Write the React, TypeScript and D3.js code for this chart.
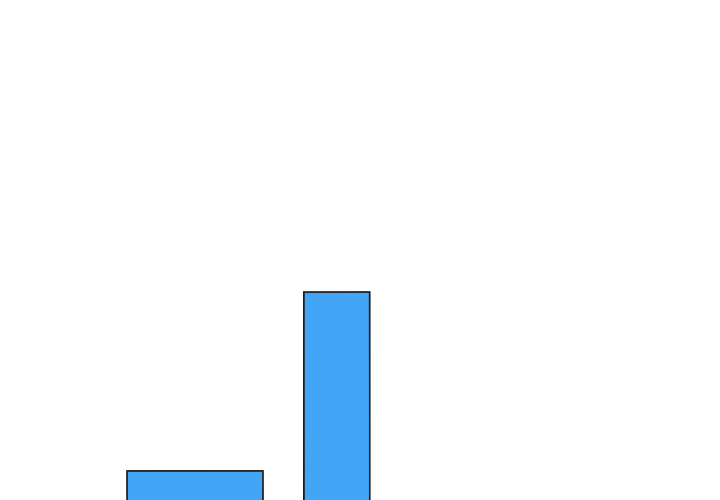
import { useEffect, useRef } from "react";
import * as d3 from "d3";

// Bars: label, left edge, right edge (x units), value
const labels = ["A", "B"];
const binStart = [0, 13];
const binEnd = [10, 17.85];
const values = [14, 100];

const W = 720;
const H = 500;

const App = () => {
    const svgRef = useRef<SVGSVGElement>(null);

    useEffect(() => {
        if (!svgRef.current) return;
        const svg = d3.select(svgRef.current);
        svg.selectAll("*").remove();

        const x = d3.scaleLinear().domain([0, 10]).range([127, 263]);
        // baseline sits at the bottom edge of the picture (chart is cropped)
        const y = d3.scaleLinear().domain([0, 100]).range([H, 292]);

        const data = labels.map((l, i) => ({
            label: l,
            x0: binStart[i],
            x1: binEnd[i],
            v: values[i],
        }));

        svg.append("rect")
            .attr("width", W)
            .attr("height", H)
            .attr("fill", "#fff");

        const g = svg.append("g");

        // bars, drawn with a slightly doubled outline for the hand-drawn look
        g.selectAll(".bar")
            .data(data)
            .enter()
            .append("rect")
            .attr("class", "bar")
            .attr("x", (d) => x(d.x0))
            .attr("y", (d) => y(d.v))
            .attr("width", (d) => x(d.x1) - x(d.x0))
            .attr("height", (d) => y(0) - y(d.v) + 4)
            .attr("fill", "#42a5f5")
            .attr("stroke", "#1b1b1b")
            .attr("stroke-width", 1.6);

        g.selectAll(".edge")
            .data(data)
            .enter()
            .append("path")
            .attr("class", "edge")
            .attr("fill", "none")
            .attr("stroke", "#222")
            .attr("stroke-width", 0.8)
            .attr("opacity", 0.7)
            .attr("d", (d) => {
                const l = x(d.x0) + 0.6;
                const r = x(d.x1) - 0.5;
                const t = y(d.v) + 0.6;
                return `M${l},${H + 2}L${l - 0.4},${t}L${r},${t - 0.5}L${r + 0.4},${H + 2}`;
            });
    }, []);

    return (
        <svg
            ref={svgRef}
            width={W}
            height={H}
            style={{ position: "fixed", left: 0, top: 0, display: "block" }}
        />
    );
};

export default App;
